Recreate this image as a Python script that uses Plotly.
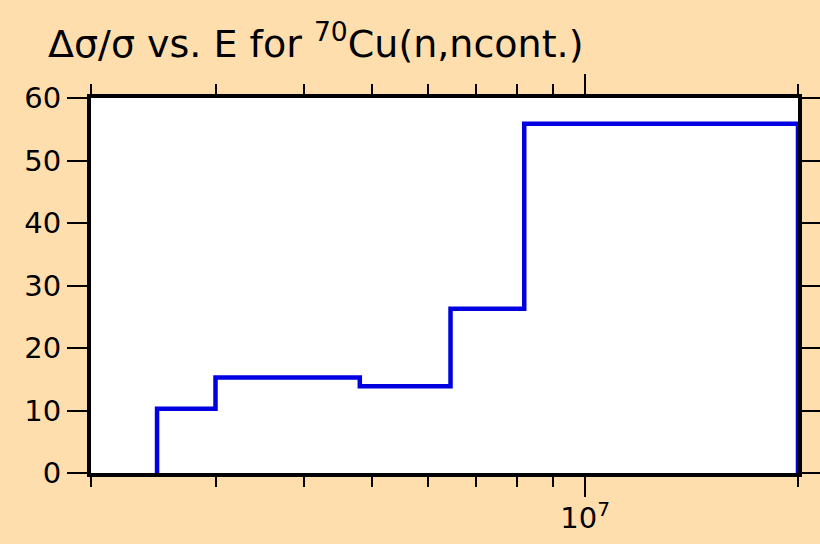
import math
import plotly.graph_objects as go

# group boundaries (eV) and relative uncertainty (%) per group
energy_edges = [2.48e6, 3.0e6, 4.8e6, 6.45e6, 8.2e6, 2.0e7]
rel_unc = [10.3, 15.3, 13.9, 26.3, 55.9]

x_range = [2.0e6, 2.0e7]
x_major = [1e7]
x_major_text = ['10<sup>7</sup>']
x_minor = [2e6, 3e6, 4e6, 5e6, 6e6, 7e6, 8e6, 9e6, 2e7]
y_ticks = [0, 10, 20, 30, 40, 50, 60]

# histogram outline: up from zero, step across groups, back down at the end
xs = [energy_edges[0]] + energy_edges + [energy_edges[-1]]
ys = [0] + rel_unc + [rel_unc[-1], 0]

fig = go.Figure()
fig.add_trace(go.Scatter(
    x=xs, y=ys,
    mode='lines',
    line=dict(color='#0000e0', width=4.5, shape='hv'),
    cliponaxis=False,
    showlegend=False,
))

font = 'DejaVu Sans, Arial, sans-serif'
axis_common = dict(
    showline=True, linecolor='black', linewidth=4, mirror='ticks',
    ticks='outside', tickcolor='black', tickwidth=2,
    showgrid=False, zeroline=False, layer='below traces', automargin=False,
    tickfont=dict(family=font, size=29, color='black'),
)

fig.update_layout(
    width=820, height=544,
    paper_bgcolor='#ffdead', plot_bgcolor='white',
    margin=dict(l=91, r=22, t=98, b=71),
    title=dict(
        text='Δσ/σ vs. E for <sup>70</sup>Cu(n,ncont.)',
        font=dict(family=font, size=38, color='black'),
        x=48 / 820, xanchor='left', xref='container',
        y=1 - 44 / 544, yanchor='middle', yref='container',
    ),
    xaxis=dict(
        type='log',
        range=[math.log10(x_range[0]), math.log10(x_range[1])],
        tickvals=x_major, ticktext=x_major_text, ticklen=20,
        ticklabelstandoff=-4,
        minor=dict(tickvals=x_minor, ticks='outside', ticklen=10,
                   tickcolor='black', tickwidth=2, showgrid=False),
        **axis_common,
    ),
    yaxis=dict(
        range=[0, 60], tickvals=y_ticks, ticklen=20,
        **axis_common,
    ),
)

# drop the browser's default body margin so the figure sits at the corner
fig.write_html("out.html", post_script="document.body.style.margin='0';",
               config={'displayModeBar': False})
